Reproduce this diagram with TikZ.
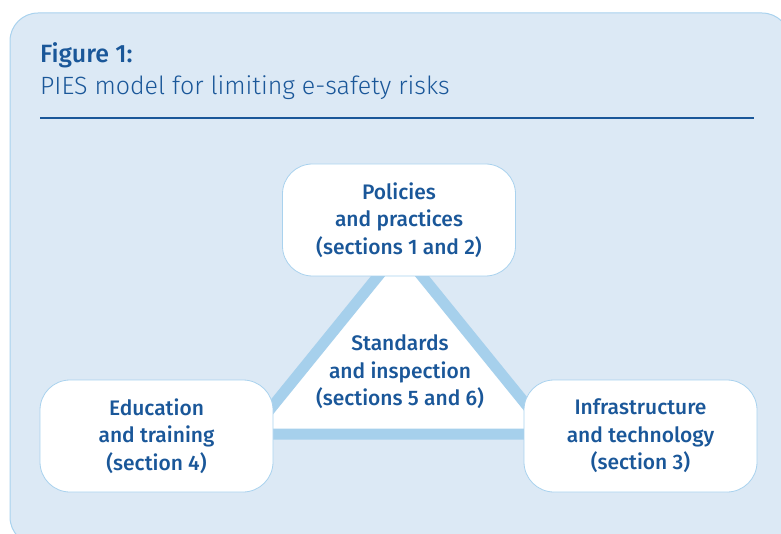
\documentclass[tikz,border=0pt]{standalone}
\usepackage{fontspec}
\setmainfont{Fira Sans}
\newfontfamily\medfont{Fira Sans Medium}
\newfontfamily\lightfont{Fira Sans Light}
\usepackage{tikz}
\usetikzlibrary{calc}

\definecolor{panelfill}{HTML}{DCE9F5}
\definecolor{panelline}{HTML}{A9D2EE}
\definecolor{band}{HTML}{A6D0EC}
\definecolor{textblue}{HTML}{1A5799}

\tikzset{
	pillbox/.style={draw=panelline, fill=white, line width=0.8pt, rounded corners=30pt,
		minimum width=233pt, minimum height=112pt, align=center, text=textblue,
		font=\medfont\fontsize{21}{27.5}\selectfont},
	midtext/.style={align=center, text=textblue, font=\medfont\fontsize{21}{27.5}\selectfont}
}

\begin{document}
\begin{tikzpicture}[x=1pt, y=-1pt]
		%%%%% START %%%%%
		\useasboundingbox (0, 0) rectangle (781, 534);
		
		\draw[fill=panelfill, draw=panelline, line width=1pt, rounded corners=28pt] (10, 13) rectangle (790, 545);
		
		\node[anchor=base west, text=textblue, font=\medfont\fontsize{25}{28}\selectfont, inner sep=0pt] (fig) at (40, 63) {Figure 1:};
		\node[anchor=base west, text=textblue, font=\lightfont\fontsize{25}{28}\selectfont, inner sep=0pt] (caption) at (40, 95) {PIES model for limiting e-safety risks};
		\draw[textblue, line width=1.3pt] (40, 118) -- (754, 118);
		
		% the triangle behind the three boxes
		\coordinate (apex) at (400, 249);
		\coordinate (lcorner) at (250, 434);
		\coordinate (rcorner) at (550, 434);
		\draw[band, fill=white, line width=11pt] (apex) -- (lcorner) -- (rcorner) -- cycle;
		
		\node[midtext] (standards) at (400, 372) {Standards\\and inspection\\(sections 5 and 6)};
		
		\node[pillbox] (policies) at (399, 220) {Policies\\and practices\\(sections 1 and 2)};
		\node[pillbox] (education) at (156.5, 436) {Education\\and training\\(section 4)};
		\node[pillbox] (infra) at (640.5, 436) {Infrastructure\\and technology\\(section 3)};
		
		%%%%% END %%%%%
	\end{tikzpicture}
\end{document}
